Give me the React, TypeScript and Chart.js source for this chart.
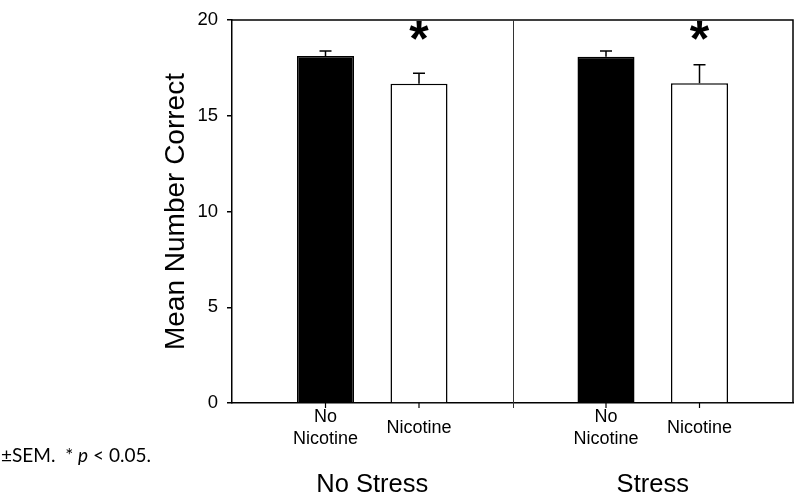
import React, { useEffect, useRef } from 'react';
import { Chart, registerables } from 'chart.js';

Chart.register(...registerables);

// ---- data ----
const categories: string[] = ['', 'No\nNicotine', 'Nicotine', '', 'No\nNicotine', 'Nicotine', ''];
const means: (number | null)[] = [null, 18.13, 16.67, null, 18.08, 16.7, null];
const sems: (number | null)[] = [null, 0.25, 0.56, null, 0.3, 0.97, null];
const fills: string[] = ['#000', '#000', '#fff', '#fff', '#000', '#fff', '#fff'];
const significant: boolean[] = [false, false, true, false, false, true, false];
const starLevel = 18.9;
const groupLabels: string[] = ['No Stress', 'Stress'];
const groupMembers: number[][] = [[1, 2], [4, 5]];
const dividerIndex = 3;
const yTicks: number[] = [0, 5, 10, 15, 20];
const yTitle = 'Mean Number Correct';

const SANS = '"Liberation Sans", Arial, Helvetica, sans-serif';

const overlayPlugin = {
  id: 'overlay',
  afterDatasetsDraw(chart: any) {
    const { ctx, chartArea } = chart;
    const xs = chart.scales.x;
    const ys = chart.scales.y;
    const { left, right, top, bottom } = chartArea;
    ctx.save();
    ctx.strokeStyle = '#000';
    // frame top and right
    ctx.lineWidth = 1.5;
    ctx.beginPath();
    ctx.moveTo(left, top);
    ctx.lineTo(right, top);
    ctx.lineTo(right, bottom);
    ctx.stroke();

    // divider
    const dx = xs.getPixelForValue(dividerIndex);
    ctx.strokeStyle = '#333';
    ctx.lineWidth = 1;
    ctx.beginPath();
    ctx.moveTo(Math.round(dx) + 0.5, top);
    ctx.lineTo(Math.round(dx) + 0.5, bottom + 5);
    ctx.stroke();

    // x ticks and labels
    ctx.strokeStyle = '#000';
    ctx.lineWidth = 1.2;
    ctx.fillStyle = '#000';
    ctx.font = `18px ${SANS}`;
    ctx.textAlign = 'center';
    ctx.textBaseline = 'alphabetic';
    categories.forEach((lab, i) => {
      if (!lab) return;
      const x = xs.getPixelForValue(i);
      ctx.beginPath();
      ctx.moveTo(x, bottom);
      ctx.lineTo(x, bottom + 5);
      ctx.stroke();
      const lines = lab.split('\n');
      const n = lines.length;
      lines.forEach((ln, k) => {
        const by = bottom + 30 + (k - (n - 1) / 2) * 21.5;
        ctx.fillText(ln, x, by);
      });
    });

    // group labels
    ctx.font = `25.5px ${SANS}`;
    groupLabels.forEach((g, gi) => {
      const m = groupMembers[gi];
      const x = (xs.getPixelForValue(m[0]) + xs.getPixelForValue(m[m.length - 1])) / 2;
      ctx.fillText(g, x, bottom + 89);
    });

    // error bars
    ctx.lineWidth = 1.5;
    means.forEach((v, i) => {
      const s = sems[i];
      if (v == null || s == null) return;
      const x = xs.getPixelForValue(i);
      const y0 = ys.getPixelForValue(v);
      const y1 = ys.getPixelForValue(v + s);
      ctx.beginPath();
      ctx.moveTo(x, y0);
      ctx.lineTo(x, y1);
      ctx.moveTo(x - 6, y1);
      ctx.lineTo(x + 6, y1);
      ctx.stroke();
    });

    // significance stars
    const starSize = 50;
    ctx.font = `bold ${starSize}px ${SANS}`;
    significant.forEach((sig, i) => {
      if (!sig) return;
      const x = xs.getPixelForValue(i);
      const yc = ys.getPixelForValue(starLevel);
      ctx.fillText('*', x, yc + 0.3 * starSize);
    });

    // footnote
    const fs = 19;
    const fam = 'Lato, "Open Sans", sans-serif';
    let fx = 1;
    const fy = 462;
    ctx.textAlign = 'left';
    const parts: [string, boolean][] = [['\u00B1SEM.  * ', false], ['p', true], [' < 0.05.', false]];
    parts.forEach(([t, it]) => {
      ctx.font = `${it ? 'italic ' : ''}${fs}px ${fam}`;
      ctx.fillText(t, fx, fy);
      fx += ctx.measureText(t).width;
    });
    ctx.restore();
  },
};

export default function App() {
  const ref = useRef<HTMLCanvasElement | null>(null);
  useEffect(() => {
    if (!ref.current) return;
    const chart = new Chart(ref.current, {
      type: 'bar',
      data: {
        labels: categories,
        datasets: [
          {
            data: means as any,
            backgroundColor: fills,
            borderColor: '#000',
            borderWidth: 1.5,
            barPercentage: 1,
            categoryPercentage: 0.61,
          },
        ],
      },
      options: {
        responsive: false,
        maintainAspectRatio: false,
        animation: false,
        devicePixelRatio: 1,
        layout: { padding: { left: 159, right: 7, top: 11, bottom: 0 } },
        plugins: { legend: { display: false }, tooltip: { enabled: false }, title: { display: false } },
        scales: {
          x: {
            type: 'category',
            offset: false,
            grid: { display: false },
            border: { display: true, color: '#000', width: 1.5 },
            ticks: { display: false },
            afterFit: (s: any) => {
              s.height = 91;
            },
          },
          y: {
            min: 0,
            max: 20,
            afterBuildTicks: (s: any) => {
              s.ticks = yTicks.map((v) => ({ value: v }));
            },
            ticks: { color: '#000', font: { family: SANS, size: 18.5 }, padding: 9 },
            grid: { drawOnChartArea: false, drawTicks: true, tickLength: 5, color: '#000', lineWidth: 1.5 },
            border: { display: true, color: '#000', width: 1.5 },
            title: {
              display: true,
              text: yTitle,
              color: '#000',
              font: { family: SANS, size: 28 },
              padding: 0,
            },
            afterFit: (s: any) => {
              s.width = 73;
            },
          },
        },
      },
      plugins: [overlayPlugin],
    });
    return () => chart.destroy();
  }, []);
  return (
    <div style={{ position: 'absolute', left: 0, top: 0, width: 800, height: 494, background: '#fff' }}>
      <canvas ref={ref} width={800} height={494} />
    </div>
  );
}
